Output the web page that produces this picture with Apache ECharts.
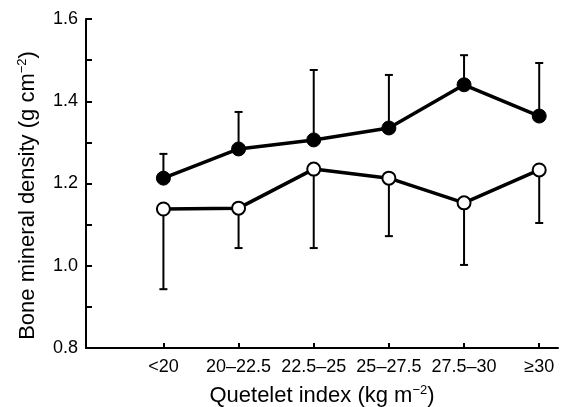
<!DOCTYPE html>
<html><head><meta charset="utf-8">
<script src="https://cdn.jsdelivr.net/npm/echarts@6/dist/echarts.min.js"></script>
<style>html,body{margin:0;padding:0;background:#fff}#c{width:565px;height:407px}</style>
</head><body><div id="c"></div>
<script>
var categories = ['<20', '20\u201322.5', '22.5\u201325', '25\u201327.5', '27.5\u201330', '\u226530'];
var filledMean = [1.213, 1.284, 1.306, 1.335, 1.440, 1.364];
var filledUpper = [1.272, 1.374, 1.476, 1.464, 1.512, 1.493];
var openMean = [1.138, 1.140, 1.235, 1.213, 1.153, 1.233];
var openLower = [0.943, 1.043, 1.043, 1.072, 1.002, 1.104];
var yTicks = [0.8, 1.0, 1.2, 1.4, 1.6];

var FONT = 'Liberation Sans';
function pts(arr){ return arr.map(function(v,i){ return [i, v]; }); }
function errData(mean, end){ return mean.map(function(v,i){ return [i, v, end[i]]; }); }
function errRender(params, api){
  var x = api.value(0);
  var p1 = api.coord([x, api.value(1)]);
  var p2 = api.coord([x, api.value(2)]);
  var st = {stroke:'#000', lineWidth:2};
  return {type:'group', children:[
    {type:'line', shape:{x1:p1[0], y1:p1[1], x2:p2[0], y2:p2[1]}, style:st},
    {type:'line', shape:{x1:p2[0]-4, y1:p2[1], x2:p2[0]+4, y2:p2[1]}, style:st}
  ]};
}
var nameRich = {t:{fontFamily:FONT,fontSize:22,color:'#000'}, s:{fontFamily:FONT,fontSize:13,color:'#000',padding:[0,0,11,0]}};
var chart = echarts.init(document.getElementById('c'));
chart.setOption({
  animation:false,
  grid:{left:86, top:19, right:7, bottom:59, outerBoundsMode:'none', containLabel:false},
  xAxis:{
    type:'value', min:-1.03, max:5.25,
    name:'{t|Quetelet index (kg m}{s|\u22122}{t|)}',
    nameLocation:'middle', nameGap:36,
    nameTextStyle:{rich:nameRich},
    axisLine:{onZero:false, lineStyle:{color:'#000', width:2}},
    axisTick:{inside:true, length:5, lineStyle:{color:'#000',width:2}, customValues:[0,1,2,3,4,5]},
    axisLabel:{customValues:[0,1,2,3,4,5], formatter:function(v){return categories[Math.round(v)];}, color:'#000', fontFamily:FONT, fontSize:18, margin:10},
    splitLine:{show:false}
  },
  yAxis:{
    type:'value', min:0.8, max:1.6, interval:0.1,
    name:'{t|Bone mineral density (g cm}{s|\u22122}{t|)}',
    nameLocation:'middle', nameGap:46, nameRotate:90,
    nameTextStyle:{rich:nameRich, padding:[0,24,0,0]},
    axisLine:{show:true, onZero:false, lineStyle:{color:'#000', width:2}},
    axisTick:{show:true, inside:true, length:6, lineStyle:{color:'#000',width:2}},
    axisLabel:{color:'#000', fontFamily:FONT, fontSize:18, margin:8, formatter:function(v){
      for (var i=0;i<yTicks.length;i++){ if (Math.abs(yTicks[i]-v)<1e-6) return yTicks[i].toFixed(1); }
      return '';
    }},
    splitLine:{show:false}
  },
  series:[
    {type:'custom', renderItem:errRender, data:errData(filledMean, filledUpper), z:1},
    {type:'custom', renderItem:errRender, data:errData(openMean, openLower), z:1},
    {type:'line', data:pts(filledMean), symbol:'circle', symbolSize:14, lineStyle:{color:'#000', width:3.5},
     itemStyle:{color:'#000', borderColor:'#000'}, z:3},
    {type:'line', data:pts(openMean), symbol:'circle', symbolSize:13, lineStyle:{color:'#000', width:3.5},
     itemStyle:{color:'#fff', borderColor:'#000', borderWidth:2}, z:3}
  ]
});
</script></body></html>
